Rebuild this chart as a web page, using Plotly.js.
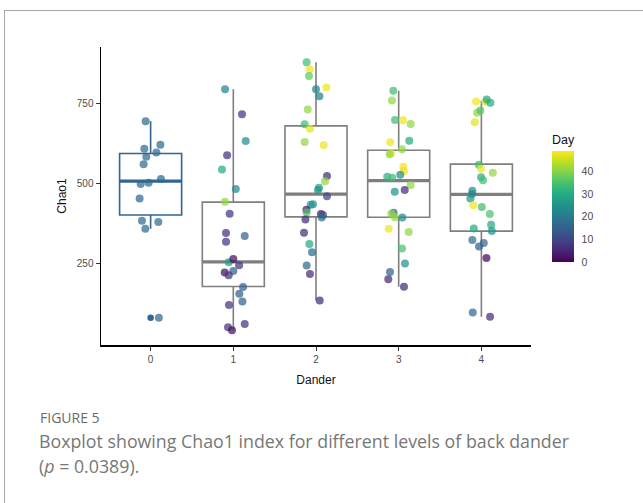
<!DOCTYPE html>
<html><head><meta charset="utf-8">
<script src="https://cdn.plot.ly/plotly-3.0.1.min.js"></script>
<style>html,body{margin:0;padding:0;background:#fff;} #chart{width:643px;height:503px;}</style>
</head><body><div id="chart"></div>
<script>
// ---- data ----
const categories = [0, 1, 2, 3, 4];
const tickLabels = ['0', '1', '2', '3', '4'];

// box statistics per dander level
const q1 = [402, 180, 396, 395, 352];
const medians = [507, 256, 467, 509, 466];
const q3 = [593, 442, 679, 603, 560];
const lowerWhisker = [359, 44, 136, 179, 86];
const upperWhisker = [693, 793, 877, 788, 757];
const outlierLevel = [0];
const outlierChao1 = [83];

// jittered samples: Chao1, Day, jitter offset
const chao1_0 = [693, 620, 608, 596, 583, 560, 514, 498, 502, 453, 384, 380, 359, 83];
const day_0 = [17, 17, 17, 17, 17, 17, 17, 17, 17, 17, 17, 17, 17, 17];
const jit_0 = [-0.06, 0.118, -0.076, 0.07, -0.052, -0.085, 0.125, -0.12, -0.024, -0.133, -0.105, 0.093, -0.064, 0.10];

const chao1_1 = [793, 715, 632, 588, 543, 483, 443, 406, 346, 337, 319, 255, 265, 246, 228, 223, 215, 178, 157, 133, 122, 63, 53, 44];
const day_1 = [22, 7, 24, 7, 30, 23, 41, 7, 7, 15, 7, 28, 2, 7, 15, 2, 7, 15, 15, 15, 7, 7, 7, 2];
const jit_1 = [-0.10, 0.105, 0.15, -0.075, -0.137, 0.03, -0.10, -0.044, -0.088, 0.138, -0.088, -0.056, 0, 0.07, 0, -0.104, -0.056, 0.118, 0.073, 0.11, -0.052, 0.138, -0.064, -0.016];

const chao1_2 = [877, 855, 834, 793, 798, 771, 730, 684, 670, 629, 619, 523, 507, 487, 480, 460, 435, 434, 418, 410, 405, 402, 394, 388, 347, 312, 286, 245, 219, 136];
const day_2 = [34, 48, 37, 22, 48, 22, 41, 34, 47, 41, 48, 6, 41, 28, 25, 10, 25, 25, 3, 35, 3, 10, 18, 6, 6, 30, 17, 17, 6, 6];
const jit_2 = [-0.113, -0.076, -0.085, 0, 0.126, 0.041, -0.10, -0.137, -0.073, -0.137, 0.093, 0.133, 0.109, 0.036, 0.024, 0.133, -0.036, -0.064, -0.116, -0.113, 0.06, 0.085, 0.069, -0.128, -0.145, -0.08, -0.048, -0.113, -0.073, 0.045];

const chao1_3 = [788, 758, 697, 696, 685, 628, 633, 606, 593, 591, 552, 538, 527, 521, 518, 495, 474, 480, 409, 406, 395, 394, 359, 349, 298, 251, 225, 202, 179];
const day_3 = [34, 41, 34, 48, 41, 48, 30, 41, 48, 41, 48, 48, 24, 31, 34, 41, 25, 6, 16, 41, 41, 24, 48, 41, 35, 25, 15, 6, 6];
const jit_3 = [-0.065, -0.081, -0.045, 0.052, 0.145, -0.102, 0.128, 0.04, -0.093, -0.109, 0.056, 0.064, 0.019, -0.138, -0.078, 0.145, -0.048, 0.073, -0.061, -0.09, -0.045, 0.044, -0.121, 0.121, 0.04, 0.076, -0.105, -0.126, 0.064];

const chao1_4 = [755, 754, 761, 751, 720, 727, 690, 558, 546, 533, 519, 510, 477, 467, 453, 432, 427, 405, 360, 372, 352, 324, 315, 304, 268, 99, 86];
const day_4 = [48, 47, 30, 30, 41, 36, 47, 34, 48, 41, 31, 34, 24, 22, 26, 48, 34, 35, 30, 30, 26, 18, 16, 15, 1, 16, 6];
const jit_4 = [-0.064, 0.045, 0.065, 0.109, -0.052, -0.012, -0.08, -0.032, -0.004, 0.138, -0.004, 0.02, -0.109, -0.113, -0.133, -0.097, 0.005, 0.102, -0.092, 0.118, 0.126, -0.109, 0.029, -0.028, 0.061, -0.104, 0.105];

const dayTicks = [0, 10, 20, 30, 40];
const dayMax = 49;

// ---- build ----
const boxColors = ['#316592', '#7f7f7f', '#7f7f7f', '#7f7f7f', '#7f7f7f'];
const boxWidth = 0.75;
const traces = [];

categories.forEach((c, i) => {
  traces.push({
    type: 'box', x: [c], q1: [q1[i]], median: [medians[i]], q3: [q3[i]],
    lowerfence: [lowerWhisker[i]], upperfence: [upperWhisker[i]],
    width: boxWidth, whiskerwidth: 0, boxpoints: false,
    line: {color: boxColors[i], width: 1.6}, fillcolor: 'rgba(0,0,0,0)',
    hoverinfo: 'skip'
  });
  traces.push({
    type: 'scatter', mode: 'lines',
    x: [c - boxWidth / 2, c + boxWidth / 2], y: [medians[i], medians[i]],
    line: {color: boxColors[i], width: 3.2}, hoverinfo: 'skip'
  });
});

traces.push({
  type: 'scatter', mode: 'markers',
  x: outlierLevel, y: outlierChao1,
  marker: {color: boxColors[0], size: 6.5}, hoverinfo: 'skip'
});

const groups = [[chao1_0, day_0, jit_0], [chao1_1, day_1, jit_1], [chao1_2, day_2, jit_2], [chao1_3, day_3, jit_3], [chao1_4, day_4, jit_4]];
const px = [], py = [], pc = [];
groups.forEach((g, i) => {
  g[0].forEach((v, k) => { px.push(categories[i] + g[2][k]); py.push(v); pc.push(g[1][k]); });
});

traces.push({
  type: 'scatter', mode: 'markers', x: px, y: py,
  marker: {
    color: pc, colorscale: 'Viridis', cmin: 0, cmax: dayMax, size: 8, opacity: 0.72,
    line: {width: 0}, showscale: true,
    colorbar: {
      title: {text: 'Day', side: 'top', font: {family: 'Liberation Sans, Arial, sans-serif', size: 12.5, color: '#111'}},
      thickness: 22, thicknessmode: 'pixels', len: 130, lenmode: 'pixels',
      x: 1.0488, xanchor: 'left', y: 0.4966, yanchor: 'middle', xpad: 0, ypad: 0,
      outlinewidth: 0, tickvals: dayTicks, ticks: 'outside', ticklen: 6, tickcolor: 'rgba(255,255,255,0)',
      tickfont: {family: 'Liberation Sans, Arial, sans-serif', size: 10.5, color: '#4d4d4d'}
    }
  },
  hoverinfo: 'skip'
});

const axisFont = {family: 'Liberation Sans, Arial, sans-serif', size: 10, color: '#4d4d4d'};
const titleFont = {family: 'Liberation Sans, Arial, sans-serif', size: 12, color: '#111'};
const W = 430, H = 298, L = 101, T = 47;
const toPX = v => (v - L) / W;
const toPY = v => (T + H - v) / H;

const layout = {
  width: 643, height: 503,
  margin: {l: 101, r: 112, t: 47, b: 158},
  paper_bgcolor: '#fff', plot_bgcolor: '#fff', showlegend: false,
  xaxis: {
    range: [-0.6, 4.6], tickvals: categories, ticktext: tickLabels,
    showline: true, linecolor: '#000', linewidth: 1.5, ticks: 'outside', ticklen: 4, tickcolor: '#333', tickwidth: 1,
    showgrid: false, zeroline: false, tickfont: axisFont,
    title: {text: 'Dander', font: titleFont, standoff: 12}
  },
  yaxis: {
    range: [-2, 924], tickvals: [250, 500, 750],
    showline: true, linecolor: '#000', linewidth: 1.5, ticks: 'outside', ticklen: 4, tickcolor: '#333', tickwidth: 1,
    showgrid: false, zeroline: false, tickfont: axisFont,
    title: {text: 'Chao1', font: titleFont, standoff: 7}
  },
  shapes: [
    {type: 'line', xref: 'paper', yref: 'paper', x0: toPX(4), x1: toPX(643), y0: toPY(10.5), y1: toPY(10.5), line: {color: '#a8a8a8', width: 1}},
    {type: 'line', xref: 'paper', yref: 'paper', x0: toPX(4.5), x1: toPX(4.5), y0: toPY(10), y1: toPY(503), line: {color: '#a8a8a8', width: 1}}
  ],
  annotations: [
    {xref: 'paper', yref: 'paper', x: toPX(38), y: toPY(417), xanchor: 'left', yanchor: 'middle', showarrow: false,
     text: 'FIGURE 5', font: {family: 'Open Sans, sans-serif', size: 14, color: '#6b6b6b'}},
    {xref: 'paper', yref: 'paper', x: toPX(37), y: toPY(441), xanchor: 'left', yanchor: 'middle', showarrow: false,
     text: 'Boxplot showing Chao1 index for different levels of back dander', font: {family: 'Open Sans, sans-serif', size: 17.8, color: '#777'}},
    {xref: 'paper', yref: 'paper', x: toPX(37), y: toPY(466), xanchor: 'left', yanchor: 'middle', showarrow: false,
     text: '(<i>p</i> = 0.0389).', font: {family: 'Open Sans, sans-serif', size: 17.8, color: '#777'}}
  ]
};

Plotly.newPlot('chart', traces, layout, {displayModeBar: false, staticPlot: true});
</script></body></html>
